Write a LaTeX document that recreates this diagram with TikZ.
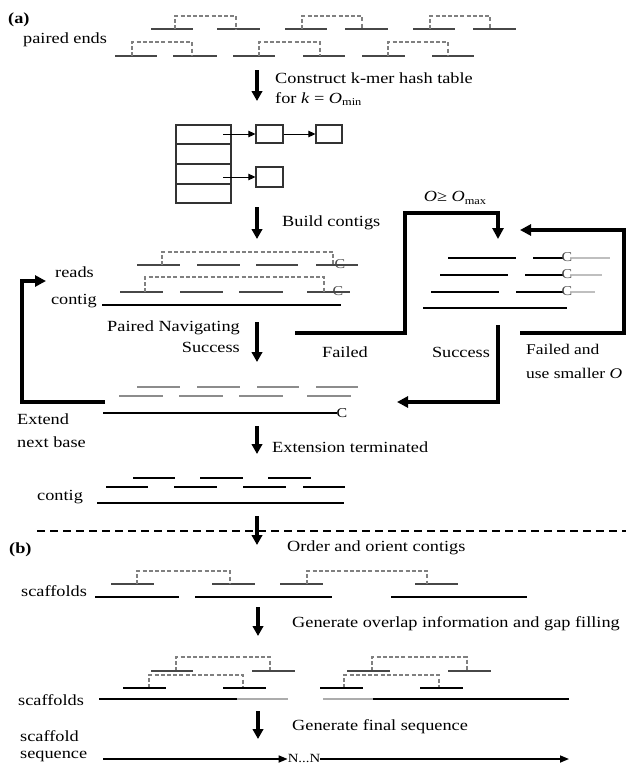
\documentclass[tikz,border=0pt]{standalone}
\usepackage{fontspec}
\setmainfont{Liberation Serif}[FakeStretch=1.18]
\usetikzlibrary{arrows.meta}
\definecolor{readgray}{gray}{0.28}
\definecolor{linkgray}{gray}{0.5}
\definecolor{softgray}{gray}{0.55}
\definecolor{palegray}{gray}{0.75}
% one read segment: \rdseg[style]{x1}{x2}{y}
\newcommand{\rdseg}[4][readln]{\draw[#1] (#2,#4) -- (#3,#4);}
% dashed mate link: \rdlink{xa}{xb}{ytop}{ybottom}
\newcommand{\rdlink}[4]{\draw[linkdash] (#1,#4) -- (#1,#3) -- (#2,#3) -- (#2,#4);}
\newcommand{\lowidx}[1]{\raisebox{-0.35ex}{\fontsize{10.5}{12}\selectfont #1}}
\begin{document}
\begin{tikzpicture}[x=1pt,y=-1pt,
  lbl/.style={inner sep=0pt, font=\fontsize{15.5}{18}\selectfont},
  endmark/.style={inner sep=0pt, font=\fontsize{13.5}{15}\selectfont, text=readgray},
  readln/.style={line width=1.1pt, draw=readgray},
  blackread/.style={line width=1.1pt, draw=black},
  softread/.style={line width=1.1pt, draw=softgray},
  paleread/.style={line width=1.1pt, draw=palegray},
  linkdash/.style={line width=1.1pt, draw=linkgray, dash pattern=on 4pt off 2.2pt},
  contigln/.style={line width=1.8pt, draw=black},
  flowarrow/.style={line width=3.2pt, -{Triangle[length=10pt,width=10.5pt]}},
  looparrow/.style={line width=3.5pt, line join=miter, -{Triangle[length=11pt,width=11pt]}},
  tablebox/.style={draw=black!80, line width=1.2pt},
  ptrarrow/.style={line width=1pt, -{Triangle[length=7pt,width=6.5pt]}},
  seqarrow/.style={line width=1.6pt, -{Triangle[length=9pt,width=7pt]}}
]
\useasboundingbox (0,0) rectangle (626,766);

% ---------------- part (a) ----------------
\node[lbl, anchor=west, font=\fontsize{15.5}{18}\selectfont\bfseries] (tagA) at (8,20) {(a)};
\node[lbl, anchor=west] (pairedlbl) at (23,40) {paired ends};

% paired-end reads
\rdseg{151}{193}{29} \rdseg{217}{260}{29} \rdseg{285}{327}{29}
\rdseg{345}{388}{29} \rdseg{413}{455}{29} \rdseg{473}{516}{29}
\rdlink{175}{236}{16}{29} \rdlink{302}{362}{16}{29} \rdlink{430}{490}{16}{29}
\rdseg{115}{157}{56} \rdseg{173}{217}{56} \rdseg{233}{275}{56}
\rdseg{303}{345}{56} \rdseg{362}{405}{56} \rdseg{432}{474}{56}
\rdlink{132}{192}{42}{56} \rdlink{259}{320}{42}{56} \rdlink{388}{448}{42}{56}

% hash table construction
\coordinate (a1s) at (257,70); \coordinate (a1e) at (257,101);
\draw[flowarrow] (a1s) -- (a1e);
\node[lbl, anchor=west, align=left, font=\fontsize{15.5}{20}\selectfont] (hashlbl) at (275,89)
  {Construct k-mer hash table\\for \textit{k} = \textit{O}\lowidx{min}};

\draw[tablebox] (176,125) rectangle (231,203);
\draw[tablebox] (176,144) -- (231,144) (176,164) -- (231,164) (176,184) -- (231,184);
\node[tablebox, minimum width=27pt, minimum height=18pt, inner sep=0pt] (bucketA) at (269.5,134) {};
\node[tablebox, minimum width=26pt, minimum height=18pt, inner sep=0pt] (bucketB) at (329,134) {};
\node[tablebox, minimum width=27pt, minimum height=20pt, inner sep=0pt] (bucketC) at (269.5,177) {};
\coordinate (slot1) at (223,134); \coordinate (slot3) at (223,177);
\draw[ptrarrow] (slot1) -- (bucketA.west);
\draw[ptrarrow] (bucketA.east) -- (bucketB.west);
\draw[ptrarrow] (slot3) -- (bucketC.west);

% build contigs
\coordinate (a2s) at (257,207); \coordinate (a2e) at (257,239);
\draw[flowarrow] (a2s) -- (a2e);
\node[lbl, anchor=west] (buildlbl) at (282,223) {Build contigs};

\rdseg{137}{180}{265} \rdseg{197}{240}{265} \rdseg{256}{298}{265} \rdseg{316}{358}{265}
\rdlink{162}{333}{252}{265}
\node[endmark] (cA) at (340,264) {C};
\rdseg{120}{163}{292} \rdseg{180}{223}{292} \rdseg{239}{283}{292} \rdseg{307}{350}{292}
\rdlink{145}{324}{277}{292}
\node[endmark] (cB) at (338,291) {C};
\draw[contigln] (102,305) -- (341,305);
\node[lbl, anchor=west] (readslbl) at (55,272) {reads};
\node[lbl, anchor=east] (contiglblA) at (97,301) {contig};

% paired navigation
\coordinate (a3s) at (257,322); \coordinate (a3e) at (257,362);
\draw[flowarrow] (a3s) -- (a3e);
\node[lbl, anchor=east, align=right, font=\fontsize{15.5}{21}\selectfont] (navlbl) at (240,337)
  {Paired Navigating\\Success};

% failed branch to the larger-overlap step
\coordinate (failA) at (295,333); \coordinate (failB) at (405,333);
\coordinate (failC) at (405,213); \coordinate (failD) at (498,213);
\coordinate (failE) at (498,239);
\draw[looparrow] (failA) -- (failB) -- (failC) -- (failD) -- (failE);
\node[lbl, anchor=center] (omaxlbl) at (455,198) {\textit{O}≥ \textit{O}\lowidx{max}};
\node[lbl] (failedlbl) at (345,352) {Failed};

% reads with the larger overlap
\rdseg[blackread]{448}{516}{258} \rdseg[blackread]{533}{563}{258} \rdseg[paleread]{570}{610}{258}
\rdseg[blackread]{440}{508}{275} \rdseg[blackread]{525}{563}{275} \rdseg[paleread]{570}{602}{275}
\rdseg[blackread]{431}{499}{292} \rdseg[blackread]{516}{563}{292} \rdseg[paleread]{570}{595}{292}
\node[endmark] (cR1) at (567,257) {C};
\node[endmark] (cR2) at (567,274) {C};
\node[endmark] (cR3) at (567,291) {C};
\draw[line width=1.3pt] (423,308) -- (567,308);

% success back to extension
\coordinate (succA) at (498,325); \coordinate (succB) at (498,402); \coordinate (succC) at (397,402);
\draw[looparrow] (succA) -- (succB) -- (succC);
\node[lbl] (succlblB) at (461,352) {Success};

% failed again: retry with smaller overlap
\coordinate (retA) at (520,333); \coordinate (retB) at (624,333);
\coordinate (retC) at (624,230); \coordinate (retD) at (520,230);
\draw[looparrow] (retA) -- (retB) -- (retC) -- (retD);
\node[lbl, anchor=west, align=left, font=\fontsize{14.8}{24}\selectfont] (retlbl) at (526,361)
  {Failed and\\use smaller \textit{O}};

% extension
\rdseg[softread]{137}{180}{387} \rdseg[softread]{197}{240}{387} \rdseg[softread]{257}{299}{387} \rdseg[softread]{316}{358}{387}
\rdseg[softread]{119}{163}{396} \rdseg[softread]{179}{223}{396} \rdseg[softread]{239}{283}{396} \rdseg[softread]{307}{351}{396}
\draw[contigln] (103,413) -- (337,413);
\node[endmark, text=black] (cExt) at (342,413) {C};
\node[lbl, anchor=west, align=left, font=\fontsize{15.5}{23}\selectfont] (extlbl) at (17,431)
  {Extend\\next base};

% loop: extend next base
\coordinate (loopA) at (105,402); \coordinate (loopB) at (22,402);
\coordinate (loopC) at (22,281); \coordinate (loopD) at (46,281);
\draw[looparrow] (loopA) -- (loopB) -- (loopC) -- (loopD);

% extension terminated
\coordinate (a4s) at (257,426); \coordinate (a4e) at (257,454);
\draw[flowarrow] (a4s) -- (a4e);
\node[lbl, anchor=west] (termlbl) at (272,447) {Extension terminated};

\rdseg[blackread]{133}{175}{478} \rdseg[blackread]{200}{243}{478} \rdseg[blackread]{268}{311}{478}
\rdseg[blackread]{106}{148}{487} \rdseg[blackread]{174}{217}{487} \rdseg[blackread]{243}{286}{487} \rdseg[blackread]{303}{345}{487}
\draw[contigln] (97,503) -- (344,503);
\node[lbl, anchor=west] (contiglblB) at (37,497) {contig};

% separator between the two stages
\draw[line width=1.3pt, dash pattern=on 8pt off 5pt] (37,531) -- (626,531);
\coordinate (a5s) at (257,516); \coordinate (a5e) at (257,545);
\draw[flowarrow] (a5s) -- (a5e);

% ---------------- part (b) ----------------
\node[lbl, anchor=west, font=\fontsize{15.5}{18}\selectfont\bfseries] (tagB) at (9,550) {(b)};
\node[lbl, anchor=west] (orderlbl) at (287,548) {Order and orient contigs};

\rdseg{111}{154}{584} \rdseg{212}{255}{584} \rdseg{280}{323}{584} \rdseg{415}{458}{584}
\rdlink{137}{230}{571}{584} \rdlink{307}{427}{571}{584}
\draw[contigln] (95,597) -- (179,597);
\draw[contigln] (195,597) -- (332,597);
\draw[contigln] (391,597) -- (527,597);
\node[lbl, anchor=west] (scaflblA) at (21,591) {scaffolds};

\coordinate (a6s) at (258,607); \coordinate (a6e) at (258,636);
\draw[flowarrow] (a6s) -- (a6e);
\node[lbl, anchor=west] (gaplbl) at (292,624) {Generate overlap information and gap filling};

% overlapping scaffold ends
\rdlink{176}{270}{657}{671} \rdseg{151}{193}{671} \rdseg{252}{295}{671}
\rdlink{149}{243}{675}{688} \rdseg[blackread]{123}{166}{688} \rdseg[blackread]{223}{266}{688}
\rdlink{372}{467}{657}{671} \rdseg{347}{390}{671} \rdseg{448}{491}{671}
\rdlink{344}{439}{675}{688} \rdseg[blackread]{320}{363}{688} \rdseg[blackread]{420}{463}{688}
\draw[contigln] (99,699) -- (237,699);
\draw[contigln, draw=palegray!90!black] (237,699) -- (288,699);
\draw[contigln, draw=palegray!90!black] (323,699) -- (373,699);
\draw[contigln] (373,699) -- (569,699);
\node[lbl, anchor=west] (scaflblB) at (18,700) {scaffolds};

\coordinate (a7s) at (258,711); \coordinate (a7e) at (258,739);
\draw[flowarrow] (a7s) -- (a7e);
\node[lbl, anchor=west] (finallbl) at (292,727) {Generate final sequence};

% final scaffold sequence
\node[lbl, anchor=west, align=left, font=\fontsize{15.5}{16.5}\selectfont] (seqlbl) at (20,746)
  {scaffold\\sequence};
\node[inner sep=0pt, font=\fontsize{12.5}{14}\selectfont] (gapN) at (304,758) {N...N};
\coordinate (seqA) at (103,759); \coordinate (seqB) at (569,759);
\draw[seqarrow] (seqA) -- (gapN.west |- seqA);
\draw[seqarrow] (gapN.east |- seqA) -- (seqB);
\end{tikzpicture}
\end{document}
